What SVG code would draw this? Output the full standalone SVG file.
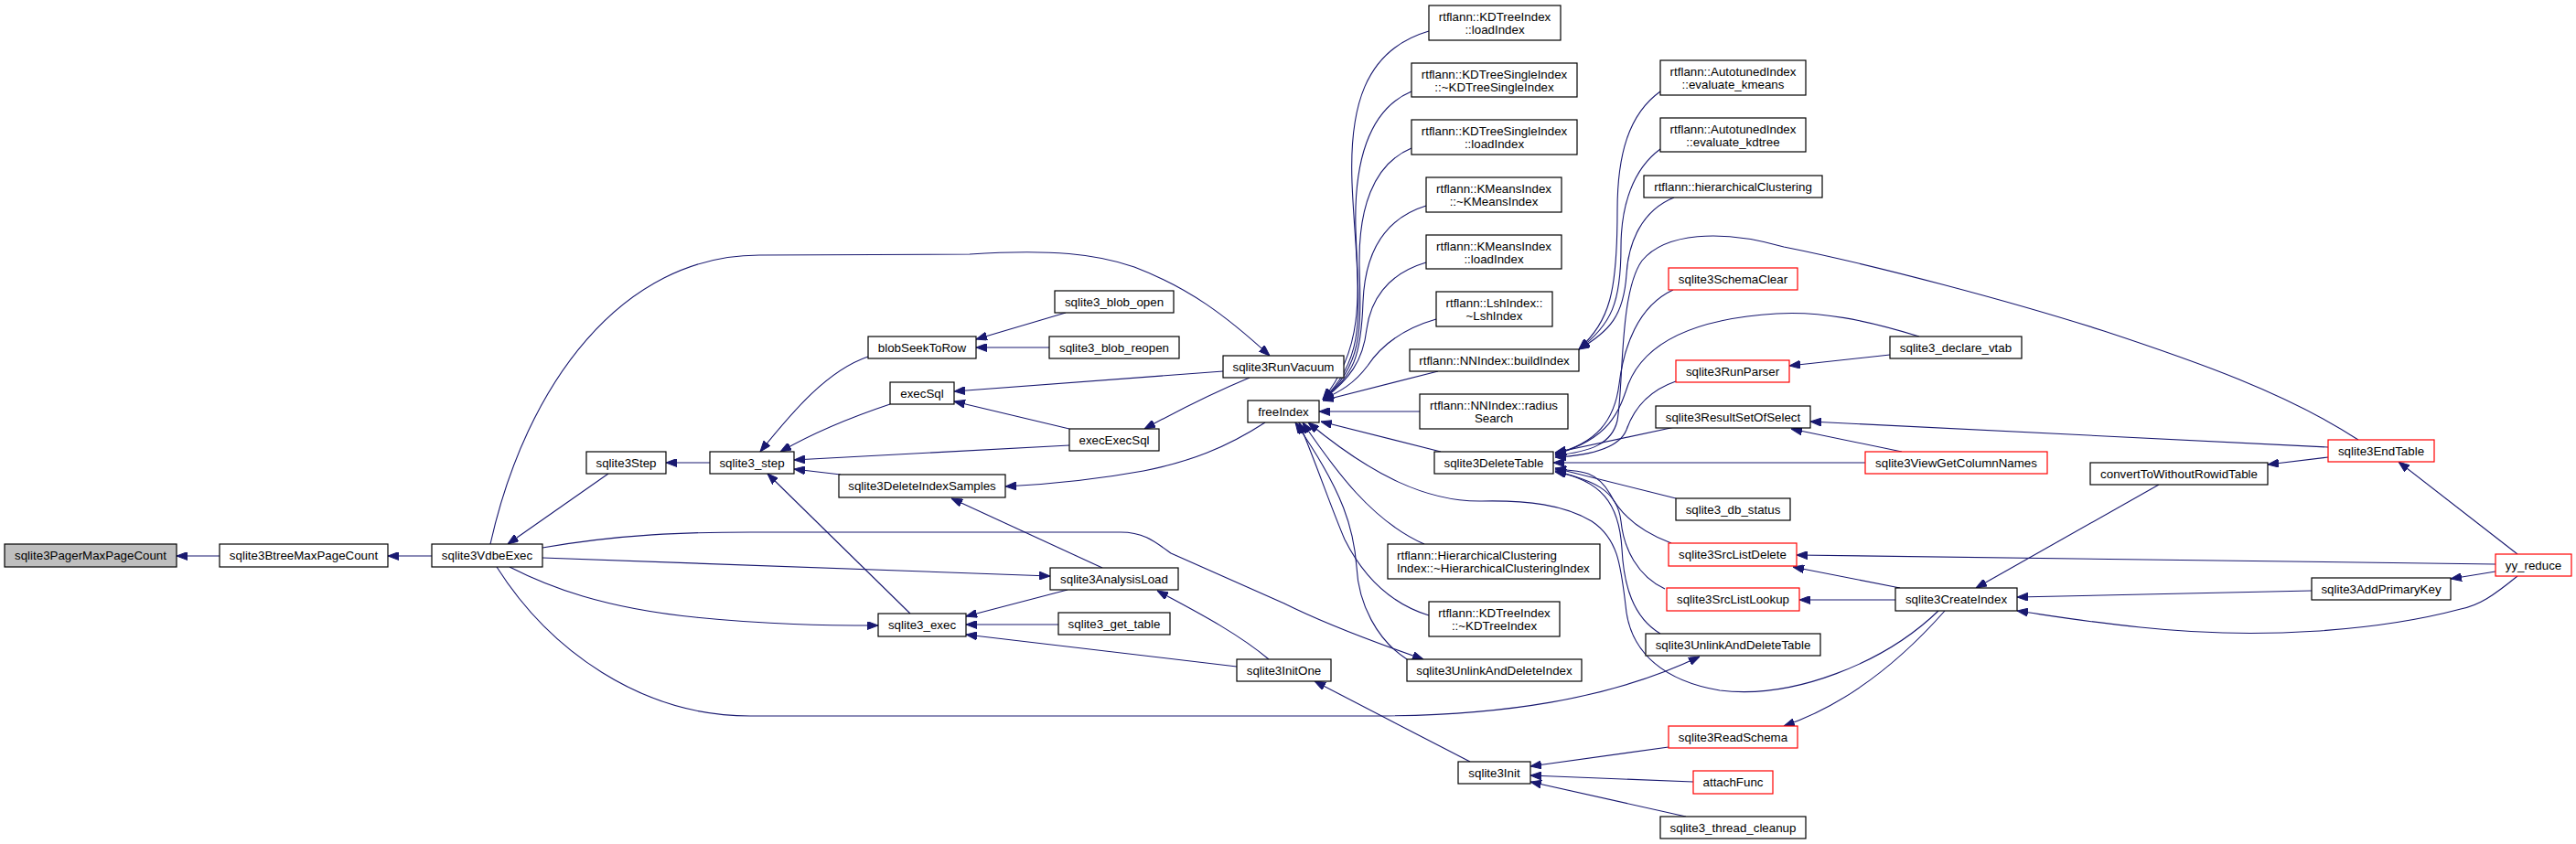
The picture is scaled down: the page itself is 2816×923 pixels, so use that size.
<svg xmlns="http://www.w3.org/2000/svg" width="2816" height="923" viewBox="0 0 2816 923">
<defs>
<marker id="arr" viewBox="0 0 12 9" refX="12" refY="4.5" markerWidth="12" markerHeight="9" orient="auto" markerUnits="userSpaceOnUse">
<path d="M0,0 L12,4.5 L0,9 z" fill="#191970" stroke="#191970" stroke-width="1"/>
</marker>
<style>
.node rect{fill:#ffffff;stroke:#000000;stroke-width:1.2}
.node.red rect{stroke:#ff0000}
.node.root rect{fill:#bfbfbf}
text{font-family:"Liberation Sans",Arial,Helvetica,sans-serif;font-size:13.33px;fill:#000000;text-anchor:middle}
text.l{text-anchor:start}
.edges path{fill:none;stroke:#191970;stroke-width:1.1;marker-end:url(#arr)}
</style>
</defs>
<rect x="0" y="0" width="2816" height="923" fill="#ffffff"/>
<g id="edges" class="edges">
<path d="M240,608 L193,608"/>
<path d="M472,608 L424,608"/>
<path d="M665,518 L555,595"/>
<path d="M776,506 L728,506"/>
<path d="M949,390 C905,405 868,448 831,494"/>
<path d="M973,442 C940,453 895,470 853,494"/>
<path d="M1169,487 L868,503"/>
<path d="M919,519 L868,513"/>
<path d="M995,671 L839,518"/>
<path d="M1165,342 L1067,371"/>
<path d="M1147,380 L1067,380"/>
<path d="M1337,406 L1043,428"/>
<path d="M1169,469 L1043,439"/>
<path d="M536,595 C575,420 680,279 830,279 L1060,278 C1150,272 1200,278 1240,292 C1300,315 1340,345 1388,389"/>
<path d="M1366,413 C1330,428 1295,445 1251,469"/>
<path d="M1383,462 C1340,490 1300,505 1250,515 C1190,526 1140,530 1099,532"/>
<path d="M593,599 C680,584 750,582 820,582 L1225,582 C1250,582 1262,592 1280,605 L1404,660 C1450,683 1510,705 1556,721"/>
<path d="M593,610 L1148,630"/>
<path d="M557,620 C600,642 660,665 760,675 C840,683 900,684 960,684"/>
<path d="M543,620 C600,710 700,783 820,783 L1500,783 C1640,783 1760,765 1858,718"/>
<path d="M1205,621 L1040,545"/>
<path d="M1167,645 L1056,674"/>
<path d="M1157,683 L1056,683"/>
<path d="M1352,729 L1056,694"/>
<path d="M1387,721 C1350,690 1300,665 1265,646"/>
<path d="M1607,833 L1437,745"/>
<path d="M1824,817 L1673,838"/>
<path d="M1851,855 L1673,848"/>
<path d="M1843,893 L1673,855"/>
<path d="M2126,668 C2080,720 2020,770 1950,794"/>
<path d="M2072,656 L1967,656"/>
<path d="M2077,643 L1960,620"/>
<path d="M2728,617 L1964,607"/>
<path d="M2360,530 L2160,643"/>
<path d="M2545,500 L2479,508"/>
<path d="M2752,606 L2622,505"/>
<path d="M2728,625 L2679,633"/>
<path d="M2527,646 L2205,653"/>
<path d="M2752,630 C2725,652 2710,662 2690,666 C2600,690 2470,700 2340,686 C2280,680 2240,673 2205,668"/>
<path d="M2545,489 L1979,461"/>
<path d="M2079,494 L1958,469"/>
<path d="M2066,388 L1956,400"/>
<path d="M1815,100 C1780,125 1768,170 1768,230 C1768,320 1760,350 1726,382"/>
<path d="M1815,163 C1785,185 1772,225 1772,270 C1772,330 1762,355 1726,382"/>
<path d="M1830,216 C1795,230 1780,265 1778,300 C1775,345 1760,362 1726,382"/>
<path d="M1562,34 C1490,55 1475,120 1478,200 C1482,300 1500,370 1446,437"/>
<path d="M1543,100 C1495,120 1480,180 1482,250 C1485,340 1495,390 1446,437"/>
<path d="M1543,162 C1500,180 1485,230 1486,290 C1488,360 1490,400 1446,437"/>
<path d="M1559,225 C1510,240 1492,280 1490,330 C1488,390 1480,410 1446,437"/>
<path d="M1559,287 C1515,300 1498,330 1494,360 C1490,395 1475,415 1446,437"/>
<path d="M1570,349 C1525,362 1505,385 1495,400 C1480,420 1465,428 1446,437"/>
<path d="M1572,406 L1446,438"/>
<path d="M1552,450 L1442,450"/>
<path d="M1575,494 L1444,461"/>
<path d="M1557,595 C1500,570 1460,515 1424,462"/>
<path d="M1562,673 C1520,660 1490,630 1470,590 C1455,555 1440,510 1420,462"/>
<path d="M1538,721 C1505,700 1485,660 1483,620 C1480,580 1470,540 1416,462"/>
<path d="M2119,668 C2060,725 1960,765 1880,755 C1820,745 1785,715 1778,670 C1772,620 1770,590 1740,570 C1710,552 1670,547 1620,548 C1560,549 1500,520 1430,462"/>
<path d="M1829,317 C1790,335 1775,380 1770,420 C1765,460 1745,485 1700,496"/>
<path d="M2098,368 C2040,350 1990,340 1942,343 C1860,348 1800,370 1780,420 C1770,450 1760,480 1700,497"/>
<path d="M1832,417 C1800,428 1785,450 1778,470 C1770,490 1740,498 1700,500"/>
<path d="M1831,467 L1700,495"/>
<path d="M2578,481 C2500,430 2400,395 2300,362 C2200,330 2050,290 1950,270 C1880,250 1820,255 1795,285 C1770,320 1775,420 1768,460 C1762,485 1740,494 1700,498"/>
<path d="M2039,506 L1698,506"/>
<path d="M1832,545 L1700,512"/>
<path d="M1827,594 C1790,580 1770,560 1760,540 C1745,515 1730,515 1700,513"/>
<path d="M1820,644 C1790,630 1775,600 1772,570 C1768,535 1740,525 1700,515"/>
<path d="M1815,693 C1785,675 1775,640 1773,600 C1770,550 1750,525 1700,516"/>
</g>
<g id="n_sqlite3PagerMaxPageCount" class="node root"><rect x="5" y="595" width="188" height="25"/><text x="99" y="612">sqlite3PagerMaxPageCount</text></g>
<g id="n_sqlite3BtreeMaxPageCount" class="node"><rect x="240" y="595" width="184" height="25"/><text x="332" y="612">sqlite3BtreeMaxPageCount</text></g>
<g id="n_sqlite3VdbeExec" class="node"><rect x="472" y="595" width="121" height="25"/><text x="532.5" y="612">sqlite3VdbeExec</text></g>
<g id="n_sqlite3Step" class="node"><rect x="641" y="494" width="87" height="24"/><text x="684.5" y="511">sqlite3Step</text></g>
<g id="n_sqlite3_step" class="node"><rect x="776" y="494" width="92" height="24"/><text x="822" y="511">sqlite3_step</text></g>
<g id="n_blobSeekToRow" class="node"><rect x="949" y="368" width="118" height="24"/><text x="1008" y="385">blobSeekToRow</text></g>
<g id="n_execSql" class="node"><rect x="973" y="418" width="70" height="24"/><text x="1008" y="435">execSql</text></g>
<g id="n_sqlite3DeleteIndexSamples" class="node"><rect x="917" y="519" width="182" height="25"/><text x="1008" y="536">sqlite3DeleteIndexSamples</text></g>
<g id="n_sqlite3_exec" class="node"><rect x="960" y="671" width="96" height="25"/><text x="1008" y="688">sqlite3_exec</text></g>
<g id="n_sqlite3_blob_open" class="node"><rect x="1153" y="318" width="130" height="24"/><text x="1218" y="335">sqlite3_blob_open</text></g>
<g id="n_sqlite3_blob_reopen" class="node"><rect x="1147" y="368" width="142" height="24"/><text x="1218" y="385">sqlite3_blob_reopen</text></g>
<g id="n_sqlite3RunVacuum" class="node"><rect x="1337" y="389" width="132" height="24"/><text x="1403" y="406">sqlite3RunVacuum</text></g>
<g id="n_execExecSql" class="node"><rect x="1169" y="469" width="98" height="24"/><text x="1218" y="486">execExecSql</text></g>
<g id="n_freeIndex" class="node"><rect x="1364" y="438" width="78" height="24"/><text x="1403" y="455">freeIndex</text></g>
<g id="n_sqlite3AnalysisLoad" class="node"><rect x="1148" y="621" width="140" height="24"/><text x="1218" y="638">sqlite3AnalysisLoad</text></g>
<g id="n_sqlite3_get_table" class="node"><rect x="1157" y="670" width="122" height="24"/><text x="1218" y="687">sqlite3_get_table</text></g>
<g id="n_sqlite3InitOne" class="node"><rect x="1352" y="721" width="103" height="24"/><text x="1403.5" y="738">sqlite3InitOne</text></g>
<g id="n_KDTreeIndex_loadIndex" class="node"><rect x="1562" y="6" width="144" height="38"/><text x="1634" y="23">rtflann::KDTreeIndex</text><text x="1634" y="37">::loadIndex</text></g>
<g id="n_KDTreeSingleIndex_dtor" class="node"><rect x="1543" y="69" width="181" height="37"/><text x="1633.5" y="86">rtflann::KDTreeSingleIndex</text><text x="1633.5" y="100">::~KDTreeSingleIndex</text></g>
<g id="n_KDTreeSingleIndex_loadIndex" class="node"><rect x="1543" y="131" width="181" height="38"/><text x="1633.5" y="148">rtflann::KDTreeSingleIndex</text><text x="1633.5" y="162">::loadIndex</text></g>
<g id="n_KMeansIndex_dtor" class="node"><rect x="1559" y="194" width="148" height="38"/><text x="1633" y="211">rtflann::KMeansIndex</text><text x="1633" y="225">::~KMeansIndex</text></g>
<g id="n_KMeansIndex_loadIndex" class="node"><rect x="1559" y="257" width="148" height="37"/><text x="1633" y="274">rtflann::KMeansIndex</text><text x="1633" y="288">::loadIndex</text></g>
<g id="n_LshIndex_dtor" class="node"><rect x="1570" y="319" width="127" height="38"/><text x="1633.5" y="336">rtflann::LshIndex::</text><text x="1633.5" y="350">~LshIndex</text></g>
<g id="n_NNIndex_buildIndex" class="node"><rect x="1541" y="382" width="185" height="24"/><text x="1633.5" y="399">rtflann::NNIndex::buildIndex</text></g>
<g id="n_NNIndex_radiusSearch" class="node"><rect x="1552" y="431" width="162" height="38"/><text x="1633" y="448">rtflann::NNIndex::radius</text><text x="1633" y="462">Search</text></g>
<g id="n_sqlite3DeleteTable" class="node"><rect x="1568" y="494" width="130" height="24"/><text x="1633" y="511">sqlite3DeleteTable</text></g>
<g id="n_HierarchicalClusteringIndex_dtor" class="node"><rect x="1517" y="595" width="232" height="38"/><text class="l" x="1527" y="612">rtflann::HierarchicalClustering</text><text class="l" x="1527" y="626">Index::~HierarchicalClusteringIndex</text></g>
<g id="n_KDTreeIndex_dtor" class="node"><rect x="1562" y="658" width="143" height="38"/><text x="1633.5" y="675">rtflann::KDTreeIndex</text><text x="1633.5" y="689">::~KDTreeIndex</text></g>
<g id="n_sqlite3UnlinkAndDeleteIndex" class="node"><rect x="1538" y="721" width="191" height="24"/><text x="1633.5" y="738">sqlite3UnlinkAndDeleteIndex</text></g>
<g id="n_sqlite3Init" class="node"><rect x="1594" y="833" width="79" height="24"/><text x="1633.5" y="850">sqlite3Init</text></g>
<g id="n_evaluate_kmeans" class="node"><rect x="1815" y="66" width="159" height="38"/><text x="1894.5" y="83">rtflann::AutotunedIndex</text><text x="1894.5" y="97">::evaluate_kmeans</text></g>
<g id="n_evaluate_kdtree" class="node"><rect x="1815" y="129" width="159" height="37"/><text x="1894.5" y="146">rtflann::AutotunedIndex</text><text x="1894.5" y="160">::evaluate_kdtree</text></g>
<g id="n_hierarchicalClustering" class="node"><rect x="1797" y="192" width="195" height="24"/><text x="1894.5" y="209">rtflann::hierarchicalClustering</text></g>
<g id="n_sqlite3SchemaClear" class="node red"><rect x="1824" y="293" width="141" height="24"/><text x="1894.5" y="310">sqlite3SchemaClear</text></g>
<g id="n_sqlite3RunParser" class="node red"><rect x="1832" y="394" width="124" height="24"/><text x="1894" y="411">sqlite3RunParser</text></g>
<g id="n_sqlite3ResultSetOfSelect" class="node"><rect x="1810" y="444" width="169" height="24"/><text x="1894.5" y="461">sqlite3ResultSetOfSelect</text></g>
<g id="n_sqlite3_declare_vtab" class="node"><rect x="2066" y="368" width="144" height="24"/><text x="2138" y="385">sqlite3_declare_vtab</text></g>
<g id="n_sqlite3ViewGetColumnNames" class="node red"><rect x="2039" y="494" width="199" height="24"/><text x="2138.5" y="511">sqlite3ViewGetColumnNames</text></g>
<g id="n_sqlite3_db_status" class="node"><rect x="1832" y="545" width="125" height="24"/><text x="1894.5" y="562">sqlite3_db_status</text></g>
<g id="n_sqlite3SrcListDelete" class="node red"><rect x="1824" y="594" width="140" height="25"/><text x="1894" y="611">sqlite3SrcListDelete</text></g>
<g id="n_sqlite3SrcListLookup" class="node red"><rect x="1822" y="643" width="145" height="25"/><text x="1894.5" y="660">sqlite3SrcListLookup</text></g>
<g id="n_sqlite3UnlinkAndDeleteTable" class="node"><rect x="1799" y="693" width="191" height="24"/><text x="1894.5" y="710">sqlite3UnlinkAndDeleteTable</text></g>
<g id="n_sqlite3CreateIndex" class="node"><rect x="2072" y="643" width="133" height="25"/><text x="2138.5" y="660">sqlite3CreateIndex</text></g>
<g id="n_sqlite3ReadSchema" class="node red"><rect x="1824" y="794" width="141" height="24"/><text x="1894.5" y="811">sqlite3ReadSchema</text></g>
<g id="n_attachFunc" class="node red"><rect x="1851" y="843" width="87" height="25"/><text x="1894.5" y="860">attachFunc</text></g>
<g id="n_sqlite3_thread_cleanup" class="node"><rect x="1815" y="893" width="159" height="24"/><text x="1894.5" y="910">sqlite3_thread_cleanup</text></g>
<g id="n_sqlite3EndTable" class="node red"><rect x="2545" y="481" width="116" height="24"/><text x="2603" y="498">sqlite3EndTable</text></g>
<g id="n_convertToWithoutRowidTable" class="node"><rect x="2285" y="506" width="194" height="24"/><text x="2382" y="523">convertToWithoutRowidTable</text></g>
<g id="n_yy_reduce" class="node red"><rect x="2728" y="606" width="83" height="24"/><text x="2769.5" y="623">yy_reduce</text></g>
<g id="n_sqlite3AddPrimaryKey" class="node"><rect x="2527" y="632" width="152" height="24"/><text x="2603" y="649">sqlite3AddPrimaryKey</text></g>
</svg>
